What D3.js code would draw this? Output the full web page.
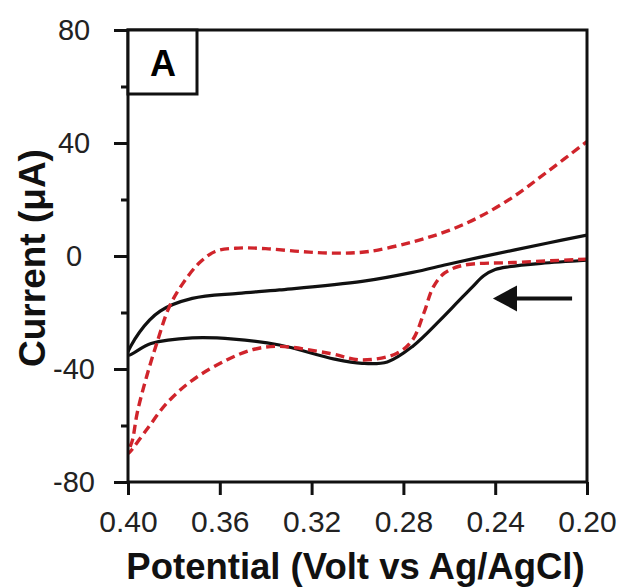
<!DOCTYPE html>
<html>
<head>
<meta charset="utf-8">
<script src="https://cdn.jsdelivr.net/npm/d3@7"></script>
<style>
  body { margin: 0; background: #fff; }
  svg { display: block; font-family: "Liberation Sans", Arial, sans-serif; }
</style>
</head>
<body>
<div id="chart"></div>
<script>
// x tick values (potential, V) and y tick values (current, uA)
const xTicks = [0.40, 0.36, 0.32, 0.28, 0.24, 0.20];
const yTicks = [-80, -40, 0, 40, 80];
const yMinorTicks = [-60, -20, 20, 60];

// solid black CV loop: from 0.20 toward 0.40 (lower) then back (upper)
const blackPotential = [0.200, 0.220, 0.234, 0.240, 0.245, 0.250, 0.256, 0.264, 0.276, 0.287, 0.298, 0.310, 0.334, 0.354, 0.372, 0.390, 0.400,
                        0.395, 0.386, 0.372, 0.352, 0.334, 0.298, 0.276, 0.261, 0.247, 0.217, 0.200];
const blackCurrent = [-1.5, -2.6, -3.8, -4.8, -7, -11, -16, -22.7, -32, -37.5, -38, -36.5, -31.5, -29.4, -29, -31, -35,
                      -27, -19.5, -15, -13.2, -12, -9, -5.8, -3, -0.5, 4.6, 7.4];

// dashed red CV loop
const redPotential = [0.200, 0.232, 0.254, 0.262, 0.267, 0.271, 0.276, 0.283, 0.298, 0.312, 0.334, 0.345, 0.357, 0.372, 0.383, 0.392, 0.400,
                      0.398, 0.396, 0.392, 0.387, 0.382, 0.376, 0.369, 0.362, 0.352, 0.340, 0.325, 0.310, 0.295, 0.276, 0.261, 0.247, 0.232, 0.217, 0.200];
const redCurrent = [-1.1, -2.3, -3.3, -6, -11, -20, -29.7, -34.5, -36.8, -34.5, -32, -33, -36.8, -44, -52, -61.6, -70,
                    -65, -55.6, -43, -29.7, -18, -9.6, -2.5, 1.6, 2.8, 2.6, 1.6, 1.0, 1.6, 5, 8.8, 13.8, 21, 30, 40.5];

const width = 635, height = 588;
const plot = {left: 128, right: 587, top: 30, bottom: 482};

const x = d3.scaleLinear().domain([0.40, 0.20]).range([plot.left, plot.right]);
const y = d3.scaleLinear().domain([-80, 80]).range([plot.bottom, plot.top]);

const svg = d3.select('#chart').append('svg')
    .attr('width', width)
    .attr('height', height);

svg.append('defs').append('clipPath').attr('id', 'clip')
  .append('rect')
    .attr('x', plot.left).attr('y', plot.top)
    .attr('width', plot.right - plot.left).attr('height', plot.bottom - plot.top);

const line = d3.line()
    .curve(d3.curveCatmullRom.alpha(0.5))
    .x(d => x(d[0]))
    .y(d => y(d[1]));

const curves = svg.append('g').attr('clip-path', 'url(#clip)');

curves.append('path')
    .attr('d', line(d3.zip(blackPotential, blackCurrent)))
    .attr('fill', 'none')
    .attr('stroke', '#111')
    .attr('stroke-width', 3.2)
    .attr('stroke-linejoin', 'round');

curves.append('path')
    .attr('d', line(d3.zip(redPotential, redCurrent)))
    .attr('fill', 'none')
    .attr('stroke', '#d0242b')
    .attr('stroke-width', 3.4)
    .attr('stroke-dasharray', '9,5');

// minor y ticks
svg.append('g')
    .attr('transform', `translate(${plot.left},0)`)
    .call(d3.axisLeft(y).tickValues(yMinorTicks).tickSize(7).tickFormat(''))
    .call(g => g.select('.domain').remove())
    .call(g => g.selectAll('.tick line').attr('stroke', '#111').attr('stroke-width', 3));

// major y ticks
svg.append('g')
    .attr('transform', `translate(${plot.left},0)`)
    .call(d3.axisLeft(y).tickValues(yTicks).tickSize(14).tickFormat(d => String(d)))
    .call(g => g.select('.domain').remove())
    .call(g => g.selectAll('.tick line').attr('stroke', '#111').attr('stroke-width', 3))
    .call(g => g.selectAll('.tick text')
        .attr('x', -54)
        .attr('text-anchor', 'middle')
        .attr('fill', '#222')
        .attr('font-size', 29)
        .attr('font-family', '"Liberation Sans", Arial, sans-serif'));

// x ticks
svg.append('g')
    .attr('transform', `translate(0,${plot.bottom})`)
    .call(d3.axisBottom(x).tickValues(xTicks).tickSize(13).tickPadding(16).tickFormat(d3.format('.2f')))
    .call(g => g.select('.domain').remove())
    .call(g => g.selectAll('.tick line').attr('stroke', '#111').attr('stroke-width', 3))
    .call(g => g.selectAll('.tick text')
        .attr('fill', '#222')
        .attr('font-size', 30)
        .attr('font-family', '"Liberation Sans", Arial, sans-serif'));

// frame
svg.append('rect')
    .attr('x', plot.left).attr('y', plot.top)
    .attr('width', plot.right - plot.left).attr('height', plot.bottom - plot.top)
    .attr('fill', 'none')
    .attr('stroke', '#111')
    .attr('stroke-width', 3);

// panel label box
svg.append('rect')
    .attr('x', plot.left).attr('y', plot.top)
    .attr('width', 69).attr('height', 64)
    .attr('fill', '#fff')
    .attr('stroke', '#111')
    .attr('stroke-width', 3);

svg.append('text')
    .attr('x', plot.left + 35).attr('y', plot.top + 46)
    .attr('text-anchor', 'middle')
    .attr('font-size', 36)
    .attr('font-weight', 'bold')
    .text('A');

// scan direction arrow
const arrowY = y(-15);
svg.append('line')
    .attr('x1', x(0.2065)).attr('x2', x(0.2390))
    .attr('y1', arrowY).attr('y2', arrowY)
    .attr('stroke', '#111')
    .attr('stroke-width', 4);
svg.append('path')
    .attr('d', `M${x(0.2410)},${arrowY} L${x(0.2305)},${arrowY - 13} L${x(0.2305)},${arrowY + 13} Z`)
    .attr('fill', '#111');

// axis titles
svg.append('text')
    .attr('x', (plot.left + plot.right) / 2 - 2)
    .attr('y', 579)
    .attr('text-anchor', 'middle')
    .attr('font-size', 36.5)
    .attr('font-weight', 'bold')
    .attr('fill', '#111')
    .text('Potential (Volt vs Ag/AgCl)');

svg.append('text')
    .attr('transform', `translate(45,${258}) rotate(-90)`)
    .attr('text-anchor', 'middle')
    .attr('font-size', 37)
    .attr('font-weight', 'bold')
    .attr('fill', '#111')
    .text('Current (\u03bcA)');
</script>
</body>
</html>
